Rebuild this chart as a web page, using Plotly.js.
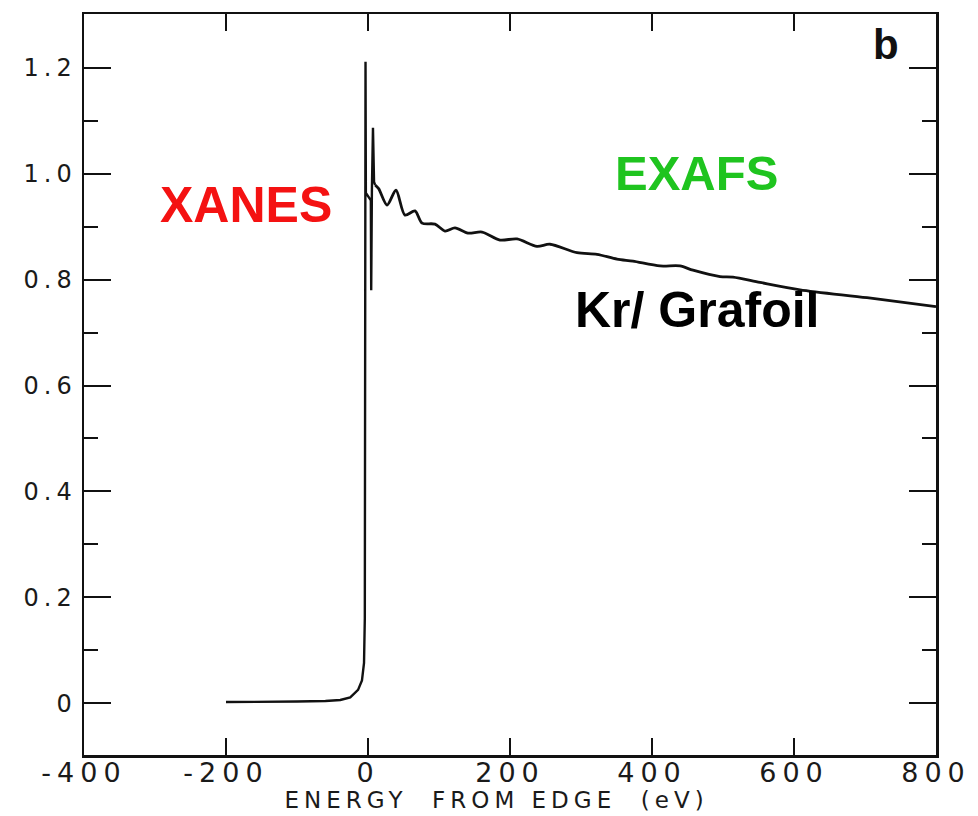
<!DOCTYPE html>
<html>
<head>
<meta charset="utf-8">
<script src="https://cdn.plot.ly/plotly-3.0.1.min.js"></script>
<style>
  html, body { margin: 0; padding: 0; background: #fff; }
  #chart { width: 978px; height: 816px; }
  .xtick text { letter-spacing: 6px; }
  .ytick text { letter-spacing: 5px; }
  g.annotation[data-index="0"] text { letter-spacing: 5px; }
</style>
</head>
<body>
<div id="chart"></div>
<script>
// Energy from edge (eV) — edge region (with glitch spikes)
const energyEdge = [-200, -150, -100, -60, -39, -25, -14, -8.5, -5.6, -4.5, -4, -3.5, -3,
  4, 4.5, 5.5, 7, 8.5, 10];
const absorptionEdge = [0.002, 0.002, 0.003, 0.004, 0.006, 0.011, 0.025, 0.043, 0.076, 0.16, 0.6, 1.212, 0.964,
  0.95, 0.78, 0.97, 1.087, 0.985, 0.979];
// Energy from edge (eV) — EXAFS region
const energyExafs = [10, 15, 26.8, 39.4, 52.1, 66.2, 76.1, 94.4, 108.5, 122.5,
  140.8, 160.6, 185.9, 209.9, 238, 256.3, 294.4, 322.5, 350.7, 373.2, 411.3, 439.4,
  457.7, 495.8, 514.1, 552, 608.5, 702.8, 800];
const absorptionExafs = [0.979, 0.972, 0.941, 0.969, 0.922, 0.930, 0.907, 0.905, 0.892, 0.898,
  0.888, 0.890, 0.875, 0.877, 0.863, 0.867, 0.851, 0.848, 0.839, 0.835, 0.826, 0.826,
  0.818, 0.806, 0.805, 0.795, 0.781, 0.766, 0.749];

const xTickVals = [-400, -200, 0, 200, 400, 600, 800];
const xTickText = ['-400', '-200', '0', '200', '400', '600', '800'];
const yTickVals = [0, 0.2, 0.4, 0.6, 0.8, 1.0, 1.2];
const yTickText = ['0', '0.2', '0.4', '0.6', '0.8', '1.0', '1.2'];
const yMinorVals = [0.1, 0.3, 0.5, 0.7, 0.9, 1.1];

const xTitle = 'ENERGY  FROM EDGE  (eV)';
const labelXanes = 'XANES';
const labelExafs = 'EXAFS';
const labelSample = 'Kr/ Grafoil';
const labelPanel = 'b';

const traces = [
  { x: energyEdge, y: absorptionEdge, type: 'scatter', mode: 'lines',
    line: { color: '#111', width: 2.4 }, hoverinfo: 'skip', showlegend: false },
  { x: energyExafs, y: absorptionExafs, type: 'scatter', mode: 'lines',
    line: { color: '#111', width: 2.8, shape: 'spline', smoothing: 0.8 }, hoverinfo: 'skip', showlegend: false }
];

const layout = {
  width: 978, height: 816,
  margin: { l: 84, r: 42, t: 14, b: 61 },
  paper_bgcolor: '#fff', plot_bgcolor: '#fff',
  showlegend: false,
  xaxis: {
    range: [-400, 800], tickmode: 'array', tickvals: xTickVals, ticktext: xTickText,
    ticks: 'inside', ticklen: 17, tickwidth: 2, tickcolor: '#111',
    showline: true, linecolor: '#111', linewidth: 2.5, mirror: 'allticks',
    showgrid: false, zeroline: false, ticklabelstandoff: -8,
    tickfont: { family: 'DejaVu Sans', size: 27, color: '#1a1a1a' }
  },
  yaxis: {
    range: [-0.098, 1.302], tickmode: 'array', tickvals: yTickVals, ticktext: yTickText,
    ticks: 'inside', ticklen: 27, tickwidth: 2, tickcolor: '#111',
    minor: { tickmode: 'array', tickvals: yMinorVals, ticks: 'inside', ticklen: 14, tickwidth: 2, tickcolor: '#111', showgrid: false },
    showline: true, linecolor: '#111', linewidth: 2.5, mirror: 'allticks',
    showgrid: false, zeroline: false,
    tickfont: { family: 'DejaVu Sans', size: 24, color: '#1a1a1a' }
  },
  annotations: [
    { text: xTitle, xref: 'paper', yref: 'paper', x: 0.4836, y: -0.061, xanchor: 'center', yanchor: 'middle',
      showarrow: false, font: { family: 'DejaVu Sans', size: 23, color: '#1a1a1a' } },
    { text: labelXanes, xref: 'paper', yref: 'paper', x: (246 - 84) / 852, y: (755 - 205) / 741,
      xanchor: 'center', yanchor: 'middle', showarrow: false,
      font: { family: 'Liberation Sans', size: 50, color: '#f41212', weight: 'bold' } },
    { text: labelExafs, xref: 'paper', yref: 'paper', x: (696 - 84) / 852, y: (755 - 173) / 741,
      xanchor: 'center', yanchor: 'middle', showarrow: false,
      font: { family: 'Liberation Sans', size: 49, color: '#1fc41f', weight: 'bold' } },
    { text: labelSample, xref: 'paper', yref: 'paper', x: (697 - 84) / 852, y: (755 - 310) / 741,
      xanchor: 'center', yanchor: 'middle', showarrow: false,
      font: { family: 'Liberation Sans', size: 50, color: '#000', weight: 'bold' } },
    { text: labelPanel, xref: 'paper', yref: 'paper', x: (886 - 84) / 852, y: (755 - 45) / 741,
      xanchor: 'center', yanchor: 'middle', showarrow: false,
      font: { family: 'Liberation Sans', size: 42, color: '#111', weight: 'bold' } }
  ]
};

Plotly.newPlot('chart', traces, layout, { staticPlot: true, displayModeBar: false });
</script>
</body>
</html>
